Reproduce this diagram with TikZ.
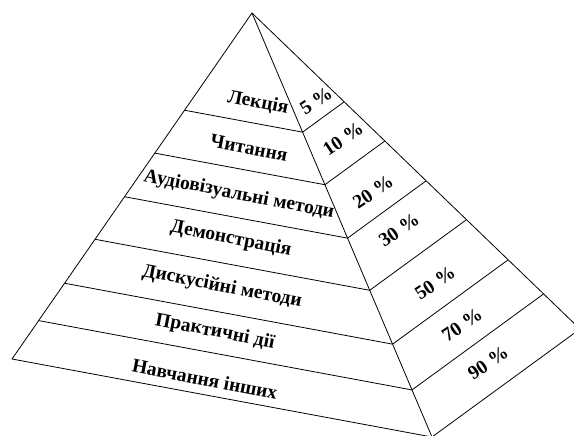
\documentclass[tikz,border=0pt]{standalone}
\usepackage{fontspec}
\setmainfont{Liberation Serif}
\usetikzlibrary{calc}
\begin{document}
\begin{tikzpicture}[x=1pt,y=-1pt,
  edge/.style={line width=0.8pt, line join=round},
  lbl/.style={font=\fontsize{19.5}{22}\selectfont\bfseries, inner sep=0pt, rotate=-11},
  pct/.style={font=\fontsize{19.5}{22}\selectfont\bfseries, inner sep=0pt, rotate=34}]
\useasboundingbox (0,0) rectangle (574,436);
\clip (0,0) rectangle (574,436);
\coordinate (A) at (252,13);
\coordinate (B) at (12,359);
\coordinate (C) at (432,437);
\coordinate (D) at (580,329);
\foreach \i/\t in {1/0.281,2/0.405,3/0.531,4/0.654,5/0.781,6/0.889}{
  \coordinate (l\i) at ($(A)!\t!(B)$);
  \coordinate (f\i) at ($(A)!\t!(C)$);
  \coordinate (r\i) at ($(A)!\t!(D)$);
}
\draw[edge] (B) -- (A) -- (D) -- (C) -- cycle;
\draw[edge] (A) -- (C);
\foreach \i in {1,...,6}{
  \draw[edge] (l\i) -- (f\i) -- (r\i);
}
\node[lbl] (t1) at (258,103) {Лекція};
\node[lbl] (t2) at (249,148) {Читання};
\node[lbl] (t3) at (239,195) {Аудіовізуальні методи};
\node[lbl] (t4) at (231,239) {Демонстрація};
\node[lbl] (t5) at (222,287) {Дискусійні методи};
\node[lbl] (t6) at (215,332) {Практичні дії};
\node[lbl] (t7) at (205,379) {Навчання інших};
\node[pct] (p1) at (316,101) {5 \%};
\node[pct] (p2) at (343,139) {10 \%};
\node[pct] (p3) at (373,192) {20 \%};
\node[pct] (p4) at (399,230) {30 \%};
\node[pct] (p5) at (435,283) {50 \%};
\node[pct] (p6) at (462,325) {70 \%};
\node[pct] (p7) at (488,363) {90 \%};
\end{tikzpicture}
\end{document}
